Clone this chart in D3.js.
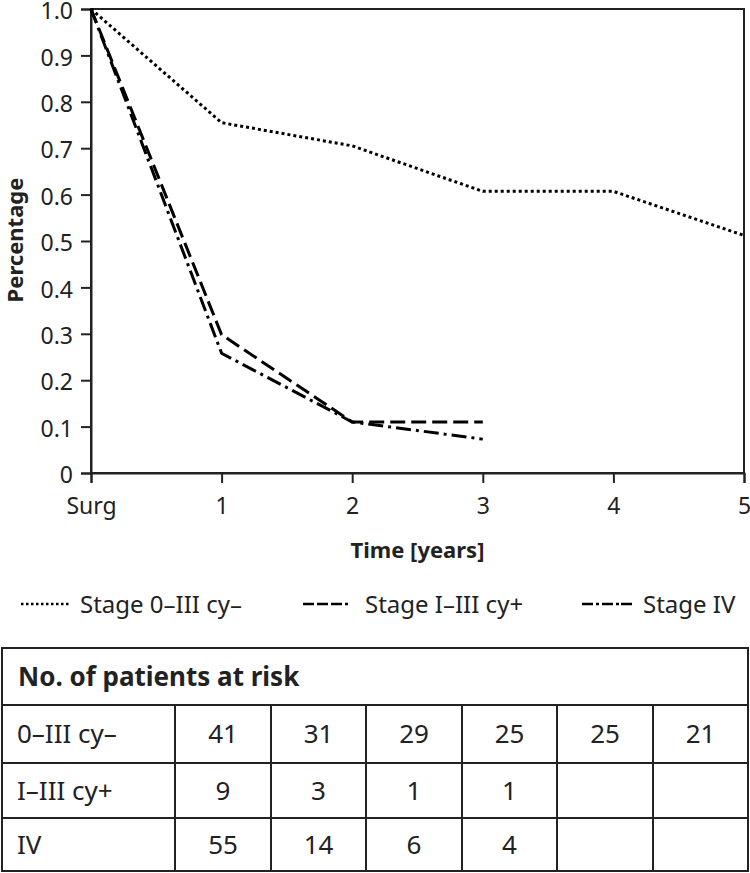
<!DOCTYPE html>
<html><head><meta charset="utf-8">
<script src="https://cdn.jsdelivr.net/npm/d3@7"></script>
<style>body{margin:0;background:#fff}svg{display:block}text{font-family:"Noto Sans",sans-serif;fill:#222}</style>
</head><body>
<svg id="c" width="750" height="873"></svg>
<script>
const timeTicks = [0,1,2,3,4,5];
const timeLabels = ["Surg","1","2","3","4","5"];
const yTicks = [0,0.1,0.2,0.3,0.4,0.5,0.6,0.7,0.8,0.9,1.0];
const seriesNames = ["Stage 0\u2013III cy\u2013","Stage I\u2013III cy+","Stage IV"];
const stage0III = [1.0,0.755,0.705,0.607,0.607,0.512];
const stageIIIIcy = [1.0,0.298,0.11,0.11];
const stageIV = [1.0,0.258,0.11,0.073];
const tableTitle = "No. of patients at risk";
const rowLabels = ["0\u2013III cy\u2013","I\u2013III cy+","IV"];
const riskRows = [[41,31,29,25,25,21],[9,3,1,1,null,null],[55,14,6,4,null,null]];

const svg = d3.select("#c");
const x = d3.scaleLinear().domain([0,5]).range([91,744]);
const y = d3.scaleLinear().domain([0,1]).range([473,9]);
const ink = "#222";

svg.append("rect").attr("x",x(0)).attr("y",y(1)).attr("width",x(5)-x(0)).attr("height",y(0)-y(1))
  .attr("fill","none").attr("stroke",ink).attr("stroke-width",2);

const xa = svg.append("g").attr("transform",`translate(0,${y(0)})`)
  .call(d3.axisBottom(x).tickValues(timeTicks).tickFormat((d,i)=>timeLabels[i]).tickSize(10).tickPadding(15));
const ya = svg.append("g").attr("transform",`translate(${x(0)},0)`)
  .call(d3.axisLeft(y).tickValues(yTicks).tickFormat(d=>d===0?"0":d3.format(".1f")(d)).tickSize(10).tickPadding(8));
[xa,ya].forEach(a=>{
  a.select(".domain").attr("stroke",ink).attr("stroke-width",2);
  a.selectAll(".tick line").attr("stroke",ink).attr("stroke-width",2);
  a.selectAll(".tick text").attr("font-size",23).attr("fill",ink).style("font-family","Noto Sans");
});
ya.selectAll(".tick text").attr("dy","0.42em");

svg.append("text").attr("x",(x(0)+x(5))/2).attr("y",558).attr("text-anchor","middle")
  .attr("font-size",22).attr("font-weight","bold").text("Time [years]");
svg.append("text").attr("transform","translate(23,240) rotate(-90)").attr("text-anchor","middle")
  .attr("font-size",22).attr("font-weight","bold").text("Percentage");

const dashes = ["3,3","15,6","15,5,3,5"];
const line = d3.line().x((d,i)=>x(i)).y(d=>y(d));
[stage0III,stageIIIIcy,stageIV].forEach((s,k)=>{
  svg.append("path").datum(s).attr("d",line).attr("fill","none").attr("stroke","#000")
    .attr("stroke-width",3).attr("stroke-dasharray",dashes[k]);
});

const legX = [[21,70,80],[303,350,365],[582,635,643]];
const legDash = ["2.5,2.5","11,3,11,3,11,3,3,2","11,3,3,3,11,3,3,2"];
seriesNames.forEach((n,k)=>{
  svg.append("line").attr("x1",legX[k][0]).attr("x2",legX[k][1]).attr("y1",604).attr("y2",604)
    .attr("stroke","#000").attr("stroke-width",2.5).attr("stroke-dasharray",legDash[k]);
  svg.append("text").attr("x",legX[k][2]).attr("y",613).attr("font-size",24).text(n);
});

const tb = svg.append("g");
const colEdges = [2,175,271,366,462,557,653,748];
const rowEdges = [648,705,763,818,871];
tb.append("rect").attr("x",2).attr("y",648).attr("width",746).attr("height",223).attr("fill","none").attr("stroke",ink).attr("stroke-width",2);
rowEdges.slice(1,-1).forEach(r=>tb.append("line").attr("x1",2).attr("x2",748).attr("y1",r).attr("y2",r).attr("stroke",ink).attr("stroke-width",2));
colEdges.slice(1,-1).forEach(c=>tb.append("line").attr("x1",c).attr("x2",c).attr("y1",705).attr("y2",871).attr("stroke",ink).attr("stroke-width",2));
tb.append("text").attr("x",18).attr("y",686).attr("font-size",26).attr("font-weight","bold").text(tableTitle);
rowLabels.forEach((l,r)=>{
  const base = (rowEdges[r+1]+rowEdges[r+2])/2+9;
  tb.append("text").attr("x",17).attr("y",base).attr("font-size",26).text(l);
  riskRows[r].forEach((v,c)=>{
    if(v===null) return;
    tb.append("text").attr("x",(colEdges[c+1]+colEdges[c+2])/2).attr("y",base).attr("text-anchor","middle").attr("font-size",26).text(v);
  });
});
</script>
</body></html>
